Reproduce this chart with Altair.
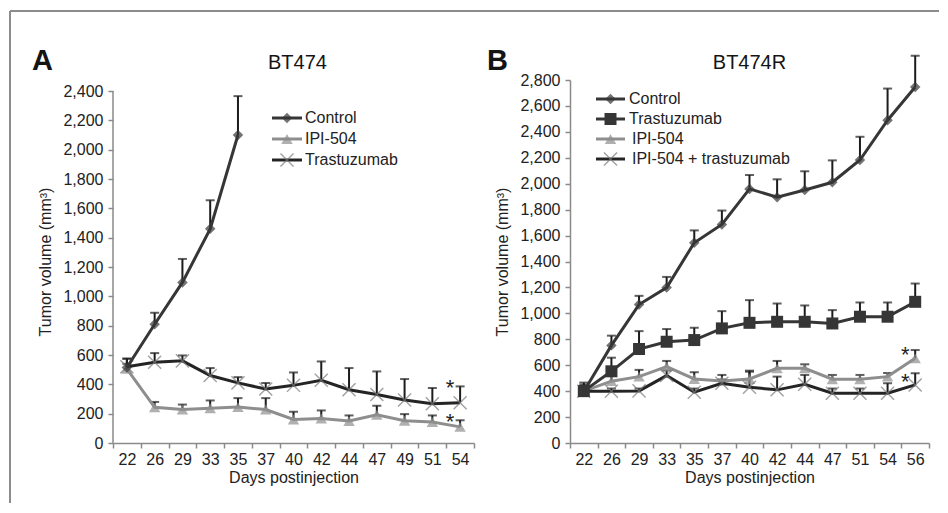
import altair as alt
import pandas as pd

# ---------------- data ----------------
A_DAYS = [22, 26, 29, 33, 35, 37, 40, 42, 44, 47, 49, 51, 54]
A_CONTROL = [515, 810, 1095, 1460, 2100]
A_CONTROL_ERR = [575, 888, 1255, 1655, 2365]
A_IPI = [505, 243, 228, 237, 245, 228, 160, 167, 150, 193, 152, 143, 110]
A_IPI_ERR = [540, 280, 262, 290, 306, 306, 213, 222, 188, 254, 197, 188, 155]
A_TRAS = [520, 550, 560, 460, 410, 368, 393, 428, 363, 330, 293, 268, 275]
A_TRAS_ERR = [575, 613, 597, 511, 449, 409, 481, 556, 511, 488, 436, 375, 386]
A_STARS_DAY = [54, 54]
A_STARS_Y = [409, 177]

B_DAYS = [22, 26, 29, 33, 35, 37, 40, 42, 44, 47, 51, 54, 56]
B_CONTROL = [397, 753, 1068, 1199, 1545, 1686, 1960, 1896, 1952, 2011, 2183, 2490, 2746]
B_CONTROL_ERR = [466, 828, 1135, 1281, 1640, 1793, 2067, 2034, 2096, 2180, 2362, 2734, 2987]
B_TRAS = [400, 553, 725, 781, 794, 884, 927, 935, 935, 922, 974, 974, 1089]
B_TRAS_ERR = [450, 658, 863, 879, 889, 1017, 1102, 1076, 1061, 1025, 1084, 1084, 1230]
B_IPI = [400, 477, 512, 589, 494, 479, 494, 576, 576, 492, 492, 512, 653]
B_IPI_ERR = [440, 520, 564, 633, 546, 525, 558, 633, 607, 525, 525, 540, 717]
B_COMBO = [400, 400, 402, 520, 392, 461, 430, 410, 453, 384, 384, 384, 448]
B_COMBO_ERR = [440, 420, 420, 560, 420, 490, 550, 512, 525, 420, 420, 461, 538]
B_STARS_DAY = [56, 56]
B_STARS_Y = [717, 509]

# ---------------- style ----------------
FONT = "Liberation Sans"
AX = "#8a8a8a"
ERR = "#1c1c1c"
TXT = "#222222"
DARK = "#363636"
DARKER = "#242424"
LIGHT = "#8e8e8e"
XMARK = "#7a7a7a"
XPATH = "M-1,-1L1,1M-1,1L1,-1"
YT = "Tumor volume (mm³)"
XT = "Days postinjection"

one = pd.DataFrame({"k": [0]})

STYLES = {
    "diamond": dict(shape="diamond", filled=True, size=110),
    "triangle": dict(shape="triangle-up", filled=True, size=130),
    "square": dict(shape="square", filled=True, size=144, opacity=1),
    "x": dict(shape=XPATH, filled=False, size=170, strokeWidth=1.4),
}


def xenc(days):
    return alt.X(
        "day:O",
        sort=[str(d) for d in days],
        scale=alt.Scale(type="band", paddingInner=0, paddingOuter=0),
        axis=alt.Axis(
            title=XT, tickBand="extent", labelAngle=0, domainColor=AX,
            tickColor=AX, domainWidth=1.5, tickWidth=1.5, tickSize=5,
            labelPadding=3, titlePadding=2,
        ),
    )


def yscale(dmax):
    return alt.Scale(domain=[0, dmax], nice=False, zero=True)


def yaxis(top, show_domain):
    return alt.Axis(
        title=YT, values=list(range(0, top + 1, 200)), format=",d",
        domain=show_domain, domainColor=AX, tickColor=AX, domainWidth=1.5,
        tickWidth=1.5, tickSize=5, labelPadding=5, titlePadding=9, grid=False,
    )


def yenc(field, top, dmax, dom):
    return alt.Y(field, type="quantitative", title=YT, scale=yscale(dmax),
                 axis=yaxis(top, dom))


def marker_style(marker, marker_color):
    st = dict(STYLES[marker])
    if st.get("filled"):
        st["color"] = marker_color
    else:
        st["stroke"] = marker_color
    return st


def series_layers(days, vals, errs, line_color, marker, marker_color, top, dmax, dom):
    n = len(vals)
    df = pd.DataFrame({"day": [str(d) for d in days[:n]], "v": vals, "e": errs})
    x = xenc(days)
    y = yenc("v", top, dmax, dom)
    base = alt.Chart(df)
    rule = base.mark_rule(color=ERR, strokeWidth=2).encode(x=x, y=y, y2="e:Q")
    cap = base.mark_tick(color=ERR, size=9, thickness=2).encode(
        x=x, y=yenc("e", top, dmax, dom))
    line = base.mark_line(color=line_color, strokeWidth=3).encode(x=x, y=y)
    pts = base.mark_point(**marker_style(marker, marker_color)).encode(x=x, y=y)
    return [rule, cap], [line, pts]


def legend_entry(x0, x1, yv, tx, label, line_color, marker, marker_color):
    ln = alt.Chart(one).mark_rule(color=line_color, strokeWidth=3).encode(
        x=alt.value(x0), x2=alt.value(x1), y=alt.value(yv))
    pt = alt.Chart(one).mark_point(**marker_style(marker, marker_color)).encode(
        x=alt.value((x0 + x1) / 2), y=alt.value(yv))
    t = alt.Chart(one).mark_text(
        align="left", baseline="middle", font=FONT, fontSize=16, color=TXT
    ).encode(x=alt.value(tx), y=alt.value(yv), text=alt.value(label))
    return [ln, pt, t]


def text_at(xv, yv, s, size, weight="normal", align="center", baseline="middle"):
    return alt.Chart(one).mark_text(
        font=FONT, fontSize=size, fontWeight=weight, color="#141414",
        align=align, baseline=baseline,
    ).encode(x=alt.value(xv), y=alt.value(yv), text=alt.value(s))


def stars(days, sdays, svals, top, dmax, dom):
    df = pd.DataFrame({"day": [str(d) for d in sdays], "v": svals})
    return alt.Chart(df).mark_text(
        text="*", font=FONT, fontSize=22, color="#222", dx=-10, dy=12,
        baseline="alphabetic",
    ).encode(x=xenc(days), y=yenc("v", top, dmax, dom))


# ---------------- panel A ----------------
WA, WB, H = 361, 359, 363
A_TOP, A_MAX = 2400, 2400 * H / 352
errA, drawA = [], []
for vals, errs, lc, mk, mc in [
    (A_IPI, A_IPI_ERR, LIGHT, "triangle", LIGHT),
    (A_TRAS, A_TRAS_ERR, DARKER, "x", XMARK),
    (A_CONTROL, A_CONTROL_ERR, DARK, "diamond", DARK),
]:
    e, d = series_layers(A_DAYS, vals, errs, lc, mk, mc, A_TOP, A_MAX, False)
    errA += e
    drawA += d

axis_line_A = alt.Chart(one).mark_rule(color=AX, strokeWidth=1.5).encode(
    x=alt.value(0),
    y=alt.YDatum(0, type="quantitative", title=YT, scale=yscale(A_MAX),
                 axis=yaxis(A_TOP, False)),
    y2=alt.Y2Datum(A_TOP),
)
legA = []
for i, (lab, lc, mk, mc) in enumerate([
    ("Control", DARK, "diamond", DARK),
    ("IPI-504", LIGHT, "triangle", LIGHT),
    ("Trastuzumab", DARKER, "x", XMARK),
]):
    legA += legend_entry(159, 189, 38 + 21 * i, 192, lab, lc, mk, mc)

frame = [
    alt.Chart(one).mark_rule(color="#8c8c8c", strokeWidth=2).encode(
        x=alt.value(-103), x2=alt.value(826), y=alt.value(-69)),
    alt.Chart(one).mark_rule(color="#8c8c8c", strokeWidth=2).encode(
        x=alt.value(-103), y=alt.value(-69), y2=alt.value(423)),
]

panelA = alt.layer(
    *errA, *drawA, axis_line_A,
    stars(A_DAYS, A_STARS_DAY, A_STARS_Y, A_TOP, A_MAX, False),
    *legA,
    text_at(WA / 2 + 4, -17, "BT474", 20),
    text_at(-81, -10, "A", 29, "bold", "left", "alphabetic"),
    *frame,
).properties(width=WA, height=H)

# ---------------- panel B ----------------
B_TOP, B_MAX = 2800, 2800
errB, drawB = [], []
for vals, errs, lc, mk, mc in [
    (B_IPI, B_IPI_ERR, LIGHT, "triangle", LIGHT),
    (B_COMBO, B_COMBO_ERR, DARKER, "x", XMARK),
    (B_TRAS, B_TRAS_ERR, DARK, "square", DARK),
    (B_CONTROL, B_CONTROL_ERR, DARK, "diamond", DARK),
]:
    e, d = series_layers(B_DAYS, vals, errs, lc, mk, mc, B_TOP, B_MAX, True)
    errB += e
    drawB += d

legB = []
for i, (lab, lc, mk, mc, tx) in enumerate([
    ("Control", DARK, "diamond", DARK, 59),
    ("Trastuzumab", DARK, "square", DARK, 59),
    ("IPI-504", LIGHT, "triangle", LIGHT, 62),
    ("IPI-504 + trastuzumab", DARKER, "x", XMARK, 62),
]):
    legB += legend_entry(26, 55, 19 + 20 * i, tx, lab, lc, mk, mc)

panelB = alt.layer(
    *errB, *drawB,
    stars(B_DAYS, B_STARS_DAY, B_STARS_Y, B_TOP, B_MAX, True),
    *legB,
    text_at(WB / 2, -17, "BT474R", 20),
    text_at(-83, -10, "B", 29, "bold", "left", "alphabetic"),
).properties(width=WB, height=H)

chart = alt.hconcat(panelA, panelB, spacing=96, bounds="flush").properties(
    padding={"left": 1, "top": 2, "right": 0, "bottom": 0}
).configure_view(stroke=None).configure_axis(
    labelFont=FONT, titleFont=FONT, labelFontSize=16, titleFontSize=16,
    titleFontWeight="normal", labelColor=TXT, titleColor=TXT,
)

chart.save("out.html", embed_options={"renderer": "svg", "actions": False})
